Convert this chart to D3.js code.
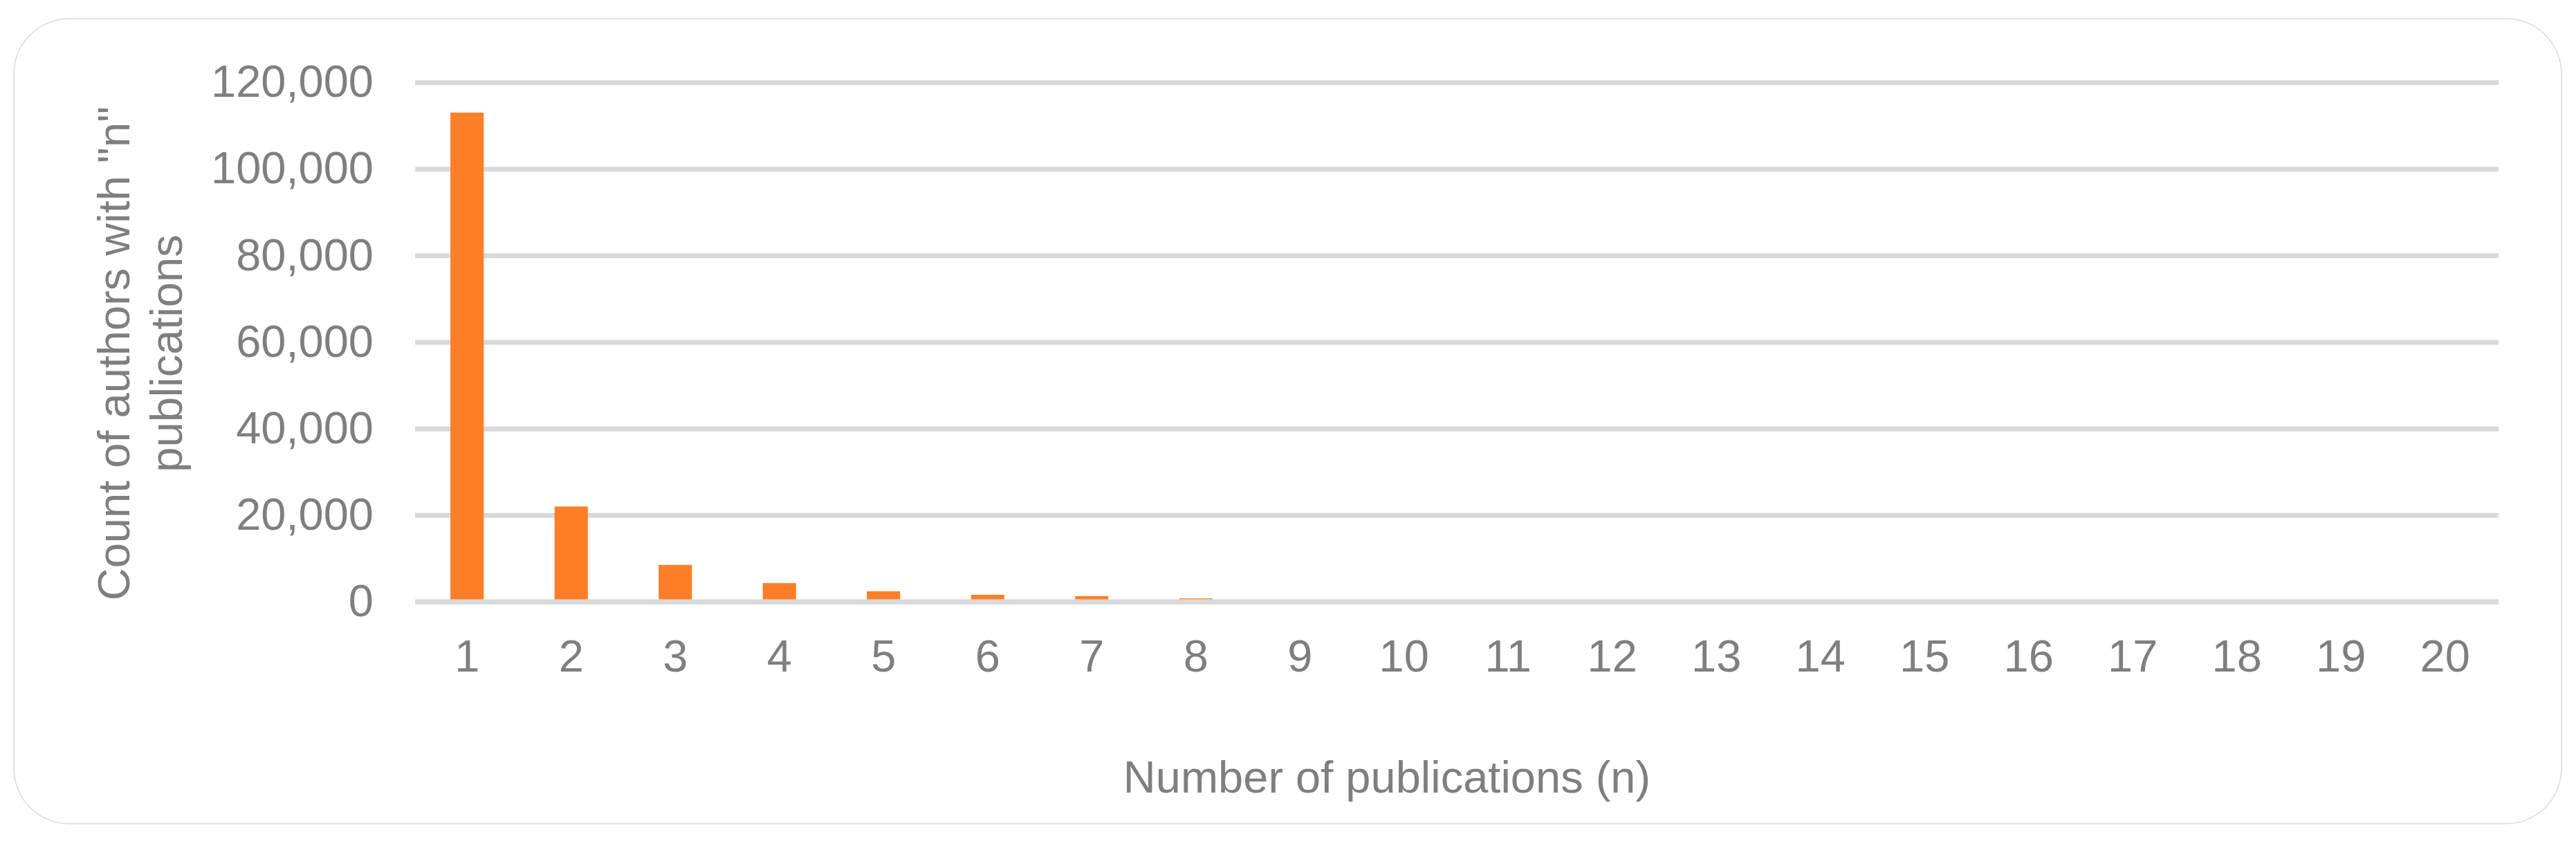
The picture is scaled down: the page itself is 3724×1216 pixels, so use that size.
<!DOCTYPE html>
<html>
<head>
<meta charset="utf-8">
<script src="https://cdn.jsdelivr.net/npm/d3@7/dist/d3.min.js"></script>
<style>
  html, body { margin: 0; padding: 0; background: #ffffff; }
  svg { display: block; }
  text { font-family: "Liberation Sans", Arial, sans-serif; fill: #7f7f7f; }
</style>
</head>
<body>
<svg id="chart" width="3724" height="1216"></svg>
<script>
// ---- data ----
const categories = ["1","2","3","4","5","6","7","8","9","10","11","12","13","14","15","16","17","18","19","20"];
const counts = [113000, 22000, 8500, 4300, 2400, 1600, 1300, 750, 450, 330, 250, 190, 150, 120, 90, 75, 60, 50, 40, 35];
const yTicks = [0, 20000, 40000, 60000, 80000, 100000, 120000];
const yTitleLines = ["Count of authors with \"n\"", "publications"];
const xTitle = "Number of publications (n)";

// ---- layout ----
const W = 3724, H = 1216;
const plot = { left: 600, right: 3610, top: 119, bottom: 870 };
const fontSize = 65;
const gridColor = "#d9d9d9";
const barColor = "#fe7f27";

const svg = d3.select("#chart");

// outer rounded frame
svg.append("rect")
  .attr("x", 20).attr("y", 27)
  .attr("width", 3703 - 20).attr("height", 1191 - 27)
  .attr("rx", 80).attr("ry", 80)
  .attr("fill", "#ffffff")
  .attr("stroke", gridColor)
  .attr("stroke-width", 1.5);

const x = d3.scaleBand()
  .domain(categories)
  .range([plot.left, plot.right])
  .paddingInner(0.68)
  .paddingOuter(0.34);

const y = d3.scaleLinear()
  .domain([0, 120000])
  .range([plot.bottom, plot.top]);

// y axis with gridlines
const yAxis = d3.axisLeft(y)
  .tickValues(yTicks)
  .tickFormat(d3.format(","))
  .tickSizeInner(-(plot.right + 2 - plot.left))
  .tickSizeOuter(0)
  .tickPadding(60);

const gy = svg.append("g")
  .attr("transform", `translate(${plot.left},0)`)
  .call(yAxis);
gy.select(".domain").remove();
gy.selectAll(".tick line")
  .attr("stroke", gridColor)
  .attr("stroke-width", 7);
gy.selectAll(".tick text")
  .attr("font-size", fontSize)
  .attr("font-family", "Liberation Sans, Arial, sans-serif")
  .attr("fill", "#7f7f7f")
  .attr("dy", "0.32em");

// bars
svg.append("g")
  .selectAll("rect")
  .data(counts)
  .join("rect")
  .attr("x", (d, i) => x(categories[i]))
  .attr("width", x.bandwidth())
  .attr("y", d => y(d))
  .attr("height", d => y(0) - y(d))
  .attr("fill", barColor);

// x axis (line on top of bars)
const xAxis = d3.axisBottom(x).tickSize(0).tickSizeOuter(0);
const gx = svg.append("g")
  .attr("transform", `translate(0,${plot.bottom})`)
  .call(xAxis);
gx.select(".domain")
  .attr("d", `M${plot.left},0H${plot.right + 2}`)
  .attr("stroke", gridColor)
  .attr("stroke-width", 7);
gx.selectAll(".tick text")
  .attr("font-size", fontSize)
  .attr("font-family", "Liberation Sans, Arial, sans-serif")
  .attr("fill", "#7f7f7f")
  .attr("dy", null)
  .attr("y", 101);

// y axis title (two lines, rotated)
const yTitleX = [187, 263];
yTitleLines.forEach((line, i) => {
  svg.append("text")
    .attr("transform", `translate(${yTitleX[i]},511) rotate(-90)`)
    .attr("text-anchor", "middle")
    .attr("font-size", fontSize)
    .text(line);
});

// x axis title
svg.append("text")
  .attr("x", 2005)
  .attr("y", 1146)
  .attr("text-anchor", "middle")
  .attr("font-size", fontSize)
  .text(xTitle);
</script>
</body>
</html>
